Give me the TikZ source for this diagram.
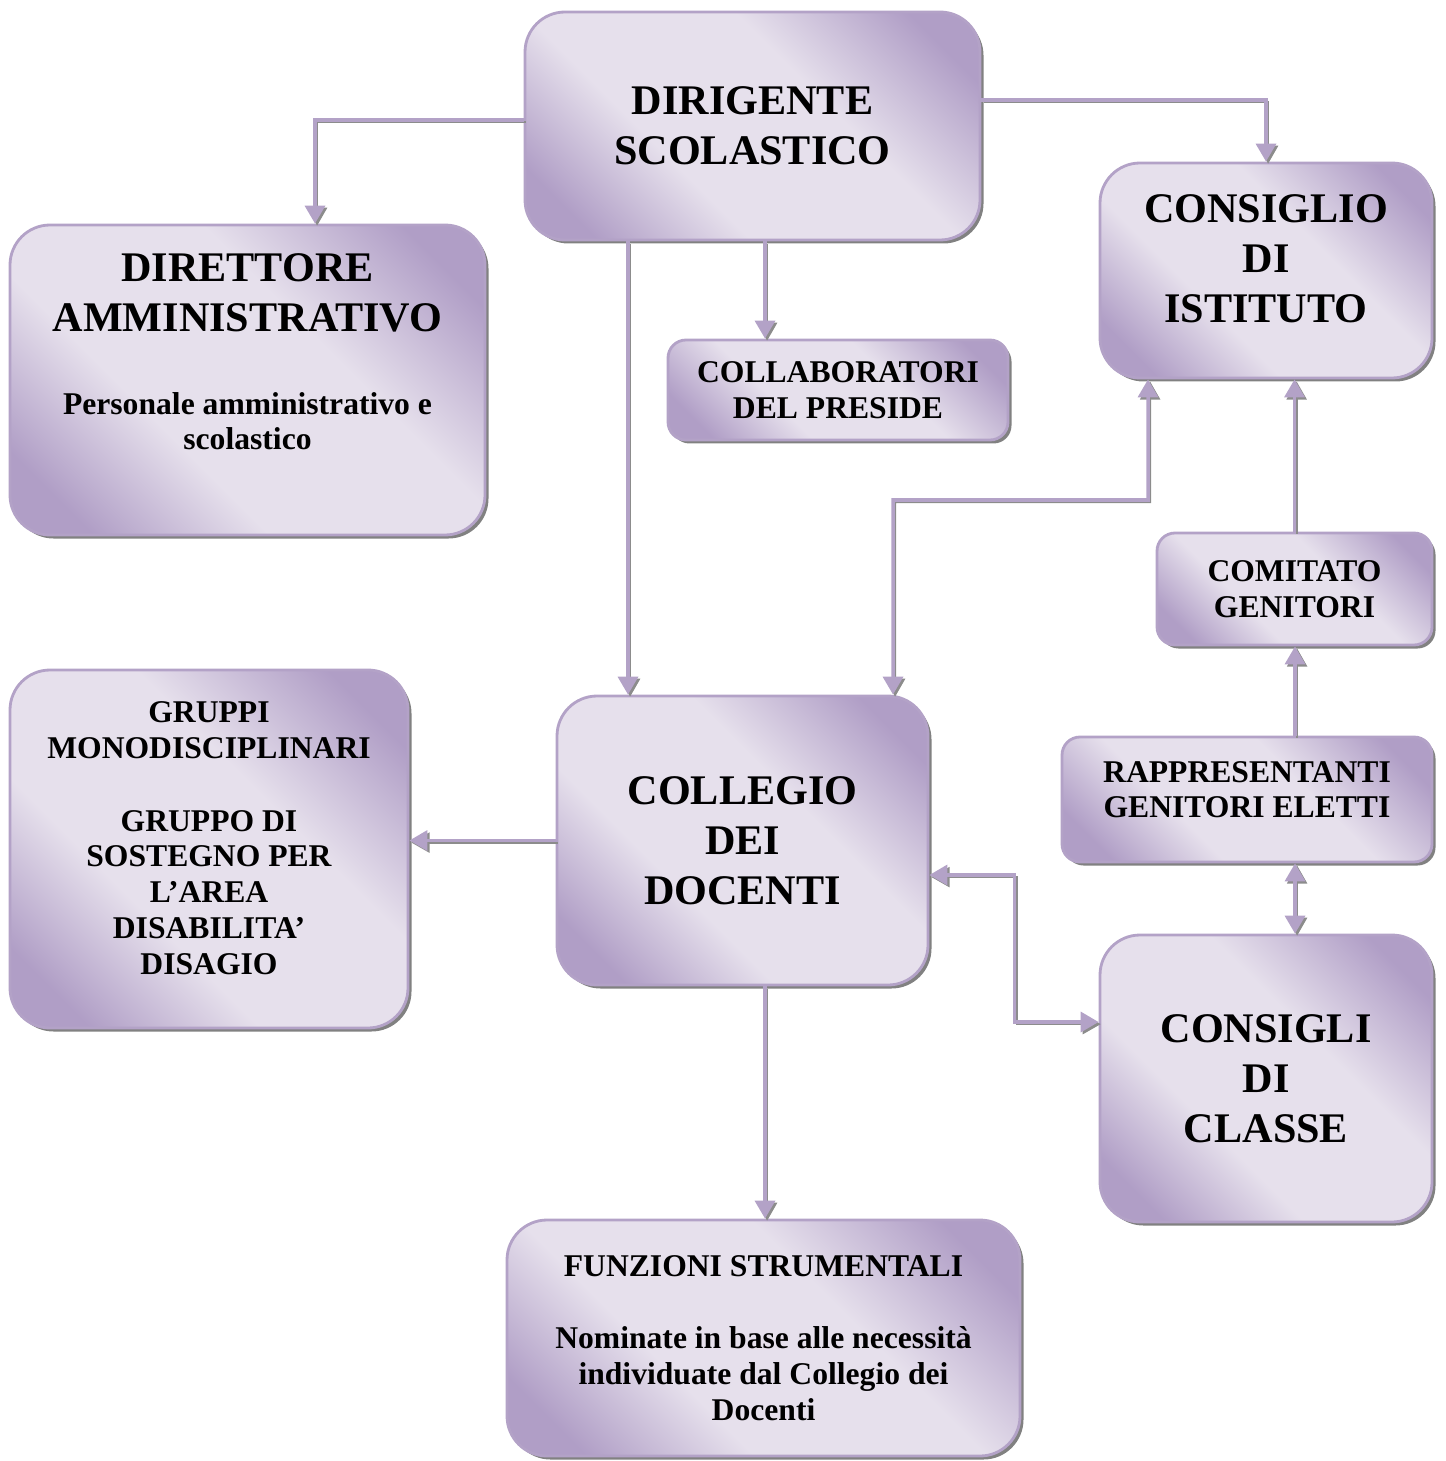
\documentclass[tikz,border=0pt]{standalone}
\usepackage{fontspec}
\setmainfont{Liberation Serif}
\usetikzlibrary{arrows.meta,shadows}
\definecolor{lavline}{HTML}{B3A2C7}
\definecolor{lavdark}{HTML}{B09EC6}
\definecolor{lavlight}{HTML}{E6E0EC}
\pgfdeclarehorizontalshading{lavshade}{100bp}{color(0bp)=(lavdark); color(22bp)=(lavdark); color(38bp)=(lavlight); color(60bp)=(lavlight); color(78bp)=(lavdark); color(100bp)=(lavdark)}
\newcommand{\smallsz}{\fontsize{9}{10.2}\selectfont}
\tikzset{
  orgbox/.style={rectangle, rounded corners=0.4cm, draw=lavline, line width=0.8pt, shading=lavshade, shading angle=45, drop shadow={shadow xshift=0.035cm, shadow yshift=-0.035cm, fill=black!55, opacity=0.9}, align=center, inner sep=0pt},
  bigtext/.style={font=\bfseries\fontsize{12}{14.2}\selectfont},
  smalltext/.style={font=\bfseries\fontsize{9}{10.2}\selectfont, rounded corners=0.18cm},
  link/.style={draw=lavline, line width=1pt, preaction={draw=black!45, line width=0.6pt, transform canvas={xshift=0.6pt,yshift=-0.6pt}}},
  >={Triangle[length=0.18cm,width=0.2cm]}
}
\begin{document}
\begin{tikzpicture}
\useasboundingbox (0,0) rectangle (14.45,-14.61);
\node [orgbox, bigtext, minimum width=4.55cm, minimum height=2.28cm] (dirig) at (7.525,-1.26) {DIRIGENTE\\SCOLASTICO};
\node [orgbox, bigtext, minimum width=3.32cm, minimum height=2.15cm] (consist) at (12.66,-2.705) {CONSIGLIO\\DI\\ISTITUTO\\[-7.4pt]\mbox{}};
\node [orgbox, bigtext, minimum width=4.75cm, minimum height=3.10cm] (dsga) at (2.475,-3.80) {DIRETTORE\\AMMINISTRATIVO\\[0.33cm]{\smallsz Personale amministrativo e}\\[-4.3pt]{\smallsz scolastico}\\[2pt]\mbox{}};
\node [orgbox, smalltext, minimum width=3.40cm, minimum height=1.00cm] (collab) at (8.38,-3.90) {COLLABORATORI\\DEL PRESIDE};
\node [orgbox, smalltext, minimum width=2.75cm, minimum height=1.12cm] (comitato) at (12.945,-5.89) {COMITATO\\GENITORI};
\node [orgbox, smalltext, minimum width=3.70cm, minimum height=1.25cm] (rappr) at (12.47,-7.995) {RAPPRESENTANTI\\GENITORI ELETTI\\[-4.5pt]\mbox{}};
\node [orgbox, smalltext, rounded corners=0.4cm, minimum width=3.98cm, minimum height=3.58cm] (gruppi) at (2.09,-8.49) {GRUPPI\\MONODISCIPLINARI\\[10.4pt]GRUPPO DI\\SOSTEGNO PER\\L’AREA\\DISABILITA’\\DISAGIO\\[-4pt]\mbox{}};
\node [orgbox, bigtext, minimum width=3.71cm, minimum height=2.89cm] (collegio) at (7.425,-8.405) {COLLEGIO\\DEI\\DOCENTI};
\node [orgbox, bigtext, minimum width=3.32cm, minimum height=2.87cm] (consclasse) at (12.66,-10.785) {CONSIGLI\\DI\\CLASSE};
\node [orgbox, smalltext, rounded corners=0.4cm, minimum width=5.13cm, minimum height=2.36cm] (funzioni) at (7.635,-13.38) {FUNZIONI STRUMENTALI\\[10.4pt]Nominate in base alle necessità\\individuate dal Collegio dei\\Docenti};
\coordinate (elbow) at (11.48,-5.00);
\draw [link, ->] ([yshift=0.06cm]dirig.west) -| ([xshift=0.675cm]dsga.north);
\draw [link, ->] ([yshift=0.26cm]dirig.east) -| (consist.north);
\draw [link, ->] ([xshift=-1.245cm]dirig.south) -- ([xshift=-1.245cm]dirig.south |- collegio.north);
\draw [link, ->] ([xshift=0.125cm]dirig.south) -- ([xshift=0.125cm]dirig.south |- collab.north);
\draw [link, <->] ([xshift=1.505cm]collegio.north) |- (elbow) -- ([xshift=-1.18cm]consist.south);
\draw [link, ->] (collegio.west) -- (collegio.west -| gruppi.east);
\draw [link, <->] ([yshift=-0.345cm]collegio.east) -| ([xshift=-0.84cm,yshift=0.565cm]consclasse.west) -- ([yshift=0.565cm]consclasse.west);
\draw [link, <->] ([xshift=0.48cm]rappr.south) -- ([xshift=0.48cm]rappr.south |- consclasse.north);
\draw [link, ->] ([xshift=0.48cm]rappr.north) -- ([xshift=0.48cm]rappr.north |- comitato.south);
\draw [link, ->] (comitato.north) -- (comitato.north |- consist.south);
\draw [link, ->] ([xshift=0.225cm]collegio.south) -- ([xshift=0.225cm]collegio.south |- funzioni.north);
\end{tikzpicture}
\end{document}
